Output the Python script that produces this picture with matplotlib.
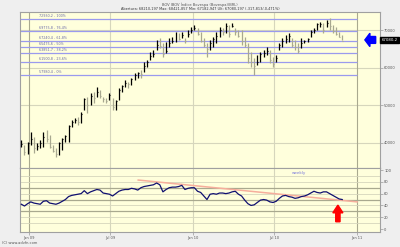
import matplotlib
matplotlib.use("Agg")
import matplotlib.pyplot as plt
import matplotlib.dates as mdates
from matplotlib.patches import Polygon
import pandas as pd

# ── Weekly data ───────────────────────────────────────────────────────────
FIRST_WEEK = "2008-12-15"

highs = [40700, 39300, 40100, 42800, 41500, 39900, 40700, 42800, 43300, 42000,
         39300, 38500, 40100, 41200, 42000, 44700, 46000, 46500, 46800, 48100,
         51900, 52100, 53200, 53500, 54800, 54000, 52100, 51900, 53200, 51900,
         51300, 54500, 55300, 56700, 56100, 57200, 58500, 58800, 59300, 61500,
         62000, 64100, 64700, 67300, 67900, 66500, 66800, 67900, 68100, 69500,
         69200, 69500, 67900, 70000, 70800, 71300, 70500, 69500, 67900, 66500,
         67300, 68100, 69500, 70800, 70500, 71900, 71300, 71900, 70500, 70000,
         70000, 68100, 66500, 64100, 62500, 63300, 64100, 64700, 65500, 64700,
         62800, 63300, 66500, 67900, 68700, 69200, 67900, 67300, 66500, 67900,
         67300, 67900, 70000, 70500, 71900, 72100, 71900, 72700, 73200, 71300,
         70800, 69500, 68700]
lows = [38800, 36700, 36900, 39300, 37200, 38000, 38500, 38800, 40100, 38500,
        37500, 36100, 36700, 38000, 40100, 40100, 44100, 45200, 44700, 45200,
        48700, 47900, 50000, 50500, 52100, 51900, 50800, 50500, 51300, 48700,
        48700, 51300, 53500, 54800, 54500, 55300, 56700, 57200, 57200, 58800,
        60100, 62000, 62800, 64700, 65200, 62800, 63900, 65500, 66500, 66800,
        67300, 67900, 66500, 68100, 69200, 70000, 68700, 66800, 65500, 62800,
        64700, 65500, 66500, 68100, 68700, 69200, 68100, 70800, 68700, 68100,
        66000, 65500, 61200, 60100, 58000, 60700, 61500, 62800, 63300, 61200,
        60100, 61500, 64700, 65500, 66500, 66800, 65500, 64700, 63900, 65200,
        66500, 66800, 68100, 69200, 70000, 70800, 69200, 70800, 70000, 69200,
        68700, 68100, 67300]
closes = [39500, 37500, 39800, 41000, 38500, 39000, 40000, 41500, 41000, 38800,
          37800, 37000, 39800, 41000, 41800, 44500, 45500, 46000, 45500, 47500,
          51500, 50000, 52500, 51800, 53500, 52500, 51500, 51000, 52800, 49500,
          51000, 54000, 55000, 56000, 55500, 57000, 58000, 58500, 58200, 60500,
          61500, 63000, 63500, 66000, 65800, 63500, 64500, 66500, 67000, 68000,
          67500, 68800, 67000, 69000, 70000, 70500, 69000, 67000, 66000, 65000,
          66500, 67500, 68500, 70000, 69500, 71000, 69000, 71000, 69500, 68500,
          67000, 66000, 62500, 61500, 60500, 61500, 63500, 64000, 64500, 62000,
          61000, 62500, 66000, 67000, 67500, 68500, 66000, 65500, 64500, 66500,
          67000, 67500, 69500, 70000, 71500, 71500, 70000, 72000, 71000, 69800,
          69000, 68200, 67080]
rsi = [42, 39, 43, 46, 44, 43, 42, 47, 48, 44, 43, 42, 44, 47, 50, 55, 57, 58,
       59, 60, 65, 60, 63, 65, 67, 66, 61, 60, 59, 56, 60, 64, 66, 67, 67, 69,
       68, 66, 70, 72, 73, 74, 75, 78, 75, 63, 67, 70, 71, 71, 72, 74, 67, 69,
       70, 70, 64, 62, 56, 50, 59, 60, 59, 61, 61, 60, 61, 63, 64, 59, 56, 49,
       43, 40, 41, 45, 49, 50, 49, 46, 45, 47, 52, 56, 57, 55, 54, 52, 53, 55,
       56, 58, 61, 64, 62, 61, 63, 63, 60, 57, 54, 51, 50]

fib_values = [72930, 69810, 67150, 65390, 63790, 61550, 57920]
fib_labels = ["72930,2 - 100%", "69775,8 - 76,4%", "67240,4 - 61,8%",
              "65475,6 - 50%", "63851,7 - 38,2%", "61500,8 - 23,6%",
              "57980,4 - 0%"]

trend_dates = ["2009-09-01", "2011-01-01"]
trend_values = [83, 46]

price_ticks = [40000, 50000, 60000, 70000]
rsi_ticks = [0, 20, 40, 60, 80, 100]
x_ticks = ["2009-01-01", "2009-07-01", "2010-01-01", "2010-07-01", "2011-01-01"]
x_labels = ["Jan 09", "Jul 09", "Jan 10", "Jul 10", "Jan 11"]

last_close_label = "67080,2"
title1 = "BOV IBOV Índice Bovespa (Bovespa)(BRL)"
title2 = ("Abertura: 68210,197 Max: 68421,857 Min: 67182,947 "
          "Ult: 67080,197 (-317,813/-0,471%)")

# ── Style ─────────────────────────────────────────────────────────────────
BG = "#efefef"
PANEL = "#ffffdc"
GRID = "#d6d6bc"
GRID_DARK = "#a9a98f"
FIB = "#9a9aee"
TXT = "#555555"

W, H = 400, 247
fig = plt.figure(figsize=(W / 100, H / 100), dpi=100, facecolor=BG)


def frac_box(x0, y0, x1, y1):
    return [x0 / W, 1 - y1 / H, (x1 - x0) / W, (y1 - y0) / H]


ax = fig.add_axes(frac_box(20, 12, 380, 168), facecolor=PANEL)
ax2 = fig.add_axes(frac_box(20, 168, 380, 232), facecolor=PANEL, sharex=ax)

weeks = pd.date_range(FIRST_WEEK, periods=len(closes), freq="W-MON")
xd = mdates.date2num(weeks)
xt = mdates.date2num(pd.to_datetime(x_ticks))

# price bars
cols = ["#000000"] + ["#000000" if c >= p else "#a8a890"
                      for p, c in zip(closes[:-1], closes[1:])]
ax.vlines(xd, lows, highs, colors=cols, linewidth=0.9, zorder=3)
ax.hlines(closes, xd, xd + 2.2, colors=cols, linewidth=0.8, zorder=3)

ax.set_ylim(33200, 74800)
ax.set_xlim(mdates.date2num(pd.Timestamp("2008-12-12")),
            mdates.date2num(pd.Timestamp("2011-02-21")))

for v in price_ticks:
    ax.axhline(v, color=GRID, linewidth=0.8, zorder=1)
for i, x in enumerate(xt):
    for a in (ax, ax2):
        a.axvline(x, color=GRID_DARK if i in (0, 4) else GRID,
                  linewidth=0.8, zorder=1)

# fibonacci levels
for v, lab in zip(fib_values, fib_labels):
    ax.hlines(v, ax.get_xlim()[0], xt[-1], color=FIB, linewidth=0.9, zorder=2)
    ax.text(0.052, v + 250, lab, transform=ax.get_yaxis_transform(),
            fontsize=2.4, color="#6a6aa8", va="bottom", ha="left", zorder=4)

# RSI panel
ax2.set_ylim(-5, 103.4)
for v in range(10, 100, 10):
    if v in (30, 50, 70):
        ax2.axhline(v, color=GRID_DARK, linewidth=0.9, zorder=1)
    else:
        ax2.axhline(v, color=GRID, linewidth=0.6, zorder=1)
ax2.plot(mdates.date2num(pd.to_datetime(trend_dates)), trend_values,
         color="#f6ae9c", linewidth=1.1, zorder=2)
ax2.plot(xd, rsi, color="#101070", linewidth=0.9, zorder=3)
ax2.text(0.775, 0.92, "weekly", transform=ax2.transAxes, fontsize=3,
         color="#7777dd", ha="center", va="center")

# axes cosmetics
for a in (ax, ax2):
    for s in a.spines.values():
        s.set_color("#a0a0a0")
        s.set_linewidth(0.8)
    a.yaxis.tick_right()
    a.tick_params(axis="y", labelsize=2.6, length=2, width=0.5, pad=1,
                  colors="#999999", labelcolor=TXT)
ax.set_yticks(price_ticks)
ax.set_yticklabels([str(v) for v in price_ticks])
ax.tick_params(axis="x", bottom=False, labelbottom=False)
ax2.set_yticks(rsi_ticks)
ax2.set_yticklabels([str(v) for v in rsi_ticks])
ax2.set_xticks(xt)
ax2.set_xticklabels(x_labels)
ax2.tick_params(axis="x", labelsize=2.6, length=2, width=0.5, pad=1,
                colors="#999999", labelcolor=TXT)

# arrows
ax.add_patch(Polygon([[0.958, 0.821], [0.972, 0.864], [0.972, 0.843],
                      [0.988, 0.843], [0.988, 0.799], [0.972, 0.799],
                      [0.972, 0.778]], closed=True, transform=ax.transAxes,
                     color="#0000ff", zorder=5, clip_on=False))
ax2.add_patch(Polygon([[0.883, 0.42], [0.869, 0.30], [0.877, 0.30],
                       [0.877, 0.16], [0.889, 0.16], [0.889, 0.30],
                       [0.897, 0.30]], closed=True, transform=ax2.transAxes,
                      color="#ff0000", zorder=5))

# last price box
fig.text(389.5 / W, 1 - 40 / H, last_close_label, fontsize=2.8, color="white",
         ha="center", va="center",
         bbox=dict(boxstyle="square,pad=0.25", fc="black", ec="black"))

fig.text(0.5, 1 - 4.5 / H, title1, fontsize=2.6, color=TXT, ha="center",
         va="center")
fig.text(0.5, 1 - 9.5 / H, title2, fontsize=2.5, color="#333333",
         ha="center", va="center")
fig.text(2 / W, 1 - 243 / H, "(C) www.advfn.com", fontsize=2.6, color=TXT,
         ha="left", va="center")

fig.savefig("out.png", dpi=100, facecolor=BG)
